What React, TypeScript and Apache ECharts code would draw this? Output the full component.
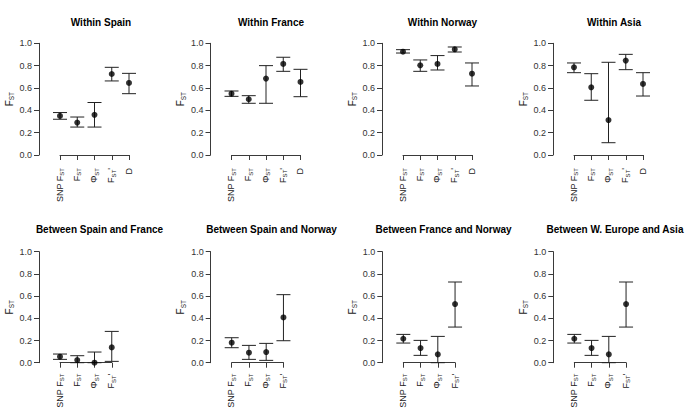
import React, { useEffect, useRef } from "react";
import * as echarts from "echarts";

const titles = [
  "Within Spain",
  "Within France",
  "Within Norway",
  "Within Asia",
  "Between Spain and France",
  "Between Spain and Norway",
  "Between France and Norway",
  "Between W. Europe and Asia",
];

const categories5 = ["SNP FST", "FST", "PhiST", "FST'", "D"];
const categories4 = ["SNP FST", "FST", "PhiST", "FST'"];

// [estimate, lower, upper] per category
const withinSpain = [[0.35, 0.32, 0.38], [0.29, 0.25, 0.34], [0.36, 0.25, 0.47], [0.725, 0.663, 0.785], [0.645, 0.549, 0.731]];
const withinFrance = [[0.549, 0.525, 0.573], [0.499, 0.463, 0.531], [0.684, 0.463, 0.8], [0.815, 0.749, 0.875], [0.654, 0.522, 0.767]];
const withinNorway = [[0.925, 0.913, 0.943], [0.803, 0.749, 0.851], [0.815, 0.761, 0.89], [0.946, 0.922, 0.967], [0.728, 0.618, 0.824]];
const withinAsia = [[0.785, 0.737, 0.824], [0.606, 0.49, 0.728], [0.313, 0.11, 0.83], [0.845, 0.764, 0.901], [0.636, 0.528, 0.737]];
const betweenSpainFrance = [[0.054, 0.03, 0.078], [0.024, 0.0, 0.063], [0.0, 0.0, 0.096], [0.138, 0.012, 0.282]];
const betweenSpainNorway = [[0.18, 0.135, 0.225], [0.09, 0.03, 0.156], [0.096, 0.021, 0.174], [0.408, 0.198, 0.613]];
const betweenFranceNorway = [[0.216, 0.177, 0.255], [0.132, 0.066, 0.201], [0.075, 0.0, 0.237], [0.528, 0.321, 0.727]];
const betweenEuropeAsia = [[0.216, 0.177, 0.255], [0.132, 0.066, 0.201], [0.075, 0.0, 0.237], [0.528, 0.321, 0.727]];

const panelData = [
  withinSpain, withinFrance, withinNorway, withinAsia,
  betweenSpainFrance, betweenSpainNorway, betweenFranceNorway, betweenEuropeAsia,
];

const yTicks = [0, 0.2, 0.4, 0.6, 0.8, 1.0];

const FONT = "Liberation Sans, Arial, Helvetica, sans-serif";

const labelRich: Record<string, string> = {
  "SNP FST": "{n|SNP F}{s|ST}",
  FST: "{n|F}{s|ST}",
  PhiST: "{n|Φ}{s|ST}",
  "FST'": "{n|F}{s|ST}{n|'}",
  D: "{n|D}",
};

export default function App() {
  const ref = useRef<HTMLDivElement>(null);
  useEffect(() => {
    document.body.style.margin = "0";
    if (!ref.current) return;
    const chart = echarts.init(ref.current, undefined, { renderer: "svg" });

    const axisX = [39, 210.5, 382, 553, 39, 210.7, 382.3, 553.3];
    const rowTop = [43.3, 251.7];
    const rowHeight = [111.7, 111];
    const xOffset = [7, 5];
    const step = 17.25;
    const titleX = [96, 266, 437.5, 609, 94.5, 266.5, 438.5, 610];
    const titleTop = [12, 219];

    const grids: any[] = [];
    const xAxes: any[] = [];
    const yAxes: any[] = [];
    const series: any[] = [];
    const titleArr: any[] = [];
    const axisColor = "#3a3a3a";

    panelData.forEach((data, i) => {
      const row = i < 4 ? 0 : 1;
      const cats = row === 0 ? categories5 : categories4;
      grids.push({
        left: axisX[i] + 21,
        top: rowTop[row],
        width: step * (cats.length - 1),
        height: rowHeight[row],
      });
      xAxes.push({
        type: "value",
        gridIndex: i,
        min: 1,
        max: cats.length,
        interval: 1,
        offset: xOffset[row],
        axisLine: { show: true, lineStyle: { color: axisColor, width: 1 } },
        axisTick: { show: true, length: 5, inside: false, lineStyle: { color: axisColor } },
        splitLine: { show: false },
        axisLabel: {
          rotate: 90,
          margin: 6,
          color: "#222",
          formatter: (v: number) => labelRich[cats[Math.round(v) - 1]] || "",
          rich: {
            n: { fontSize: 9, fontFamily: FONT, color: "#222", lineHeight: 10, verticalAlign: "top" },
            s: { fontSize: 6, fontFamily: FONT, color: "#222", lineHeight: 10, verticalAlign: "bottom" },
          },
        },
      });
      yAxes.push({
        type: "value",
        gridIndex: i,
        min: 0,
        max: 1,
        interval: 0.2,
        offset: 21,
        name: "{n|F}{s|ST}",
        nameLocation: "middle",
        nameGap: 24,
        nameRotate: 90,
        nameTextStyle: {
          rich: {
            n: { fontSize: 10, fontFamily: FONT, color: "#222", lineHeight: 11, verticalAlign: "top" },
            s: { fontSize: 6.5, fontFamily: FONT, color: "#222", lineHeight: 11, verticalAlign: "bottom" },
          },
        },
        axisLine: { show: true, lineStyle: { color: axisColor, width: 1 } },
        axisTick: { show: true, length: 5, lineStyle: { color: axisColor } },
        splitLine: { show: false },
        axisLabel: {
          margin: 7,
          fontSize: 9,
          fontFamily: FONT,
          color: "#333",
          formatter: (v: number) => (yTicks.some((t) => Math.abs(t - v) < 1e-9) ? v.toFixed(1) : ""),
        },
      });
      const pts = data.map((d, k) => [k + 1, d[0], d[1], d[2]]);
      series.push({
        type: "custom",
        xAxisIndex: i,
        yAxisIndex: i,
        clip: false,
        data: pts,
        renderItem: (params: any, api: any) => {
          const x = api.value(0);
          const lo = api.coord([x, api.value(2)]);
          const hi = api.coord([x, api.value(3)]);
          const c = 7;
          const style = { stroke: "#222", lineWidth: 1 };
          return {
            type: "group",
            children: [
              { type: "line", shape: { x1: lo[0], y1: lo[1], x2: hi[0], y2: hi[1] }, style },
              { type: "line", shape: { x1: lo[0] - c, y1: lo[1], x2: lo[0] + c, y2: lo[1] }, style },
              { type: "line", shape: { x1: hi[0] - c, y1: hi[1], x2: hi[0] + c, y2: hi[1] }, style },
            ],
          };
        },
      });
      series.push({
        type: "scatter",
        xAxisIndex: i,
        yAxisIndex: i,
        clip: false,
        symbol: "circle",
        symbolSize: 6,
        itemStyle: { color: "#000" },
        data: pts.map((p) => [p[0], p[1]]),
      });
      titleArr.push({
        text: titles[i],
        left: titleX[i],
        top: titleTop[row],
        textAlign: "center",
        textStyle: { fontSize: 10, fontWeight: "bold", fontFamily: FONT, color: "#000" },
      });
    });

    chart.setOption({
      animation: false,
      backgroundColor: "#fff",
      title: titleArr,
      grid: grids,
      xAxis: xAxes,
      yAxis: yAxes,
      series,
    });
    return () => chart.dispose();
  }, []);
  return <div ref={ref} style={{ width: 685, height: 416 }} />;
}
